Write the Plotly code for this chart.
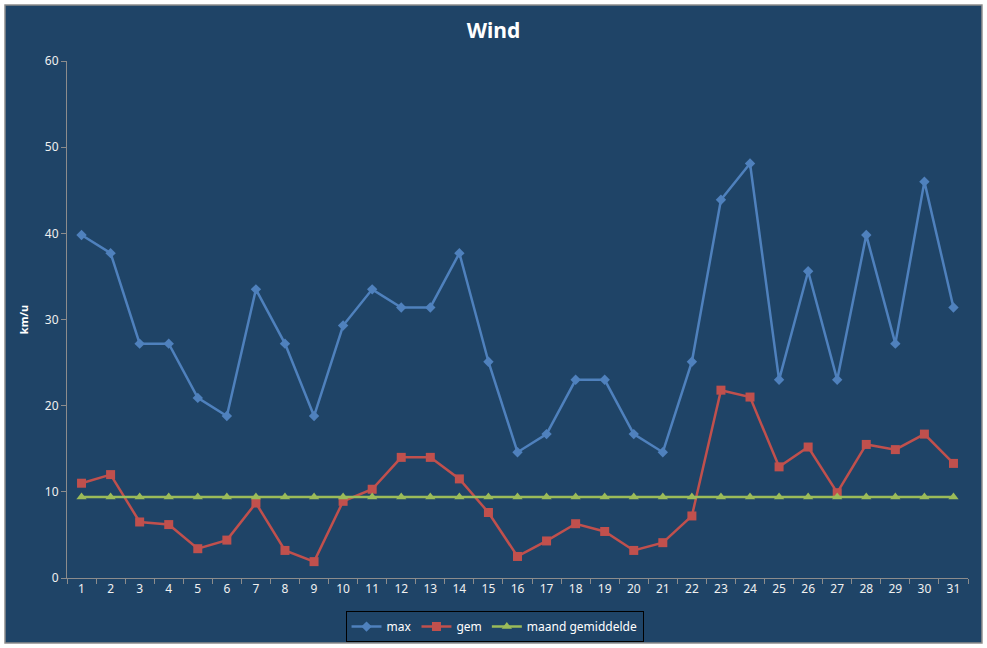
import plotly.graph_objects as go

days = [str(d) for d in range(1, 32)]
max_wind = [39.8, 37.7, 27.2, 27.2, 20.9, 18.8, 33.5, 27.2, 18.8, 29.3,
            33.5, 31.4, 31.4, 37.7, 25.1, 14.6, 16.7, 23.0, 23.0, 16.7,
            14.6, 25.1, 43.9, 48.1, 23.0, 35.6, 23.0, 39.8, 27.2, 46.0, 31.4]
gem_wind = [11.0, 12.0, 6.5, 6.2, 3.4, 4.4, 8.7, 3.2, 1.9, 8.9,
            10.3, 14.0, 14.0, 11.5, 7.6, 2.5, 4.3, 6.3, 5.4, 3.2,
            4.1, 7.2, 21.8, 21.0, 12.9, 15.2, 9.9, 15.5, 14.9, 16.7, 13.3]
maand_gem = [9.4, 9.4, 9.4, 9.4, 9.4, 9.4, 9.4, 9.4, 9.4, 9.4,
             9.4, 9.4, 9.4, 9.4, 9.4, 9.4, 9.4, 9.4, 9.4, 9.4,
             9.4, 9.4, 9.4, 9.4, 9.4, 9.4, 9.4, 9.4, 9.4, 9.4, 9.4]

BG = "#1F4467"
FONT = "Noto Sans"

fig = go.Figure()
fig.add_trace(go.Scatter(x=days, y=max_wind, name="max", mode="lines+markers",
                         line=dict(color="#4F81BD", width=2.5),
                         marker=dict(symbol="diamond", size=8, color="#4F81BD")))
fig.add_trace(go.Scatter(x=days, y=gem_wind, name="gem", mode="lines+markers",
                         line=dict(color="#C0504D", width=2.5),
                         marker=dict(symbol="square", size=9, color="#C0504D")))
fig.add_trace(go.Scatter(x=days, y=maand_gem, name="maand gemiddelde", mode="lines+markers",
                         line=dict(color="#9BBB59", width=2.5),
                         marker=dict(symbol="triangle-up", size=9, color="#9BBB59")))

fig.update_layout(
    width=987, height=648,
    margin=dict(l=67, r=19, t=61, b=70, autoexpand=False),
    paper_bgcolor="white",
    plot_bgcolor="rgba(0,0,0,0)",
    font=dict(family=FONT, color="#F0F0F0", size=12),
    title=dict(text="<b>Wind</b>", x=0.5, xanchor="center", y=0.952, yanchor="middle",
               font=dict(family=FONT, size=21, color="white")),
    showlegend=True,
    legend=dict(orientation="h", x=0.4745, xanchor="center", y=-0.064, yanchor="top",
                bordercolor="black", borderwidth=1, bgcolor="rgba(0,0,0,0)",
                font=dict(family=FONT, size=12, color="white")),
    shapes=[dict(type="rect", xref="paper", yref="paper",
                 x0=-0.0688, x1=1.0155, y0=-0.1257, y1=1.1083,
                 fillcolor=BG, line=dict(color="#8C8C8C", width=1.5), layer="below")],
)

fig.update_xaxes(type="category", range=[-0.5, 30.5], autorange=False,
                 showline=True, linecolor="#8C8C8C", linewidth=1,
                 ticks="outside", tickson="boundaries", ticklen=5, tickcolor="#8C8C8C",
                 showgrid=False, zeroline=False,
                 tickfont=dict(family=FONT, size=12, color="#F0F0F0"))
fig.update_yaxes(range=[0, 60], autorange=False, dtick=10, showline=True, linecolor="#8C8C8C", linewidth=1,
                 ticks="outside", ticklen=5, tickcolor="#8C8C8C",
                 showgrid=False, zeroline=False,
                 title=dict(text="<b>km/u</b>", font=dict(family=FONT, size=11, color="white"), standoff=14),
                 tickfont=dict(family=FONT, size=12, color="#F0F0F0"))

fig.write_html("out.html", config={"displayModeBar": False},
               post_script="document.body.style.margin='0';")
